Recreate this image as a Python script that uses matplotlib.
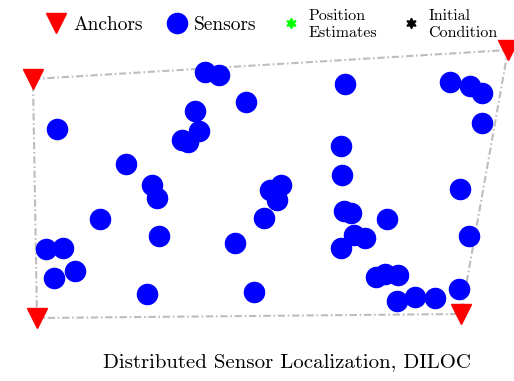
import matplotlib.pyplot as plt
from matplotlib.lines import Line2D

plt.rcParams['font.family'] = 'cmr10'
plt.rcParams['axes.formatter.use_mathtext'] = True

# anchor positions (corners of the convex hull), order TL, TR, BR, BL
anchor_x = [33, 508, 461, 37]
anchor_y = [79, 50, 314, 318]

# sensor positions
sensor_x = [57, 205, 219, 246, 195, 199, 182, 188, 126, 152, 157, 100, 159,
            46, 63, 75, 54, 147, 235, 254, 264, 270, 281, 277, 345, 341,
            342, 344, 351, 354, 365, 341, 387, 376, 385, 398, 397, 415, 435,
            459, 469, 460, 482, 450, 470, 482]
sensor_y = [129, 72, 75, 102, 111, 131, 140, 142, 164, 185, 198, 219, 236,
            249, 248, 271, 278, 294, 243, 292, 218, 190, 185, 200, 84, 146,
            175, 211, 213, 235, 238, 248, 219, 277, 274, 275, 301, 297, 298,
            289, 236, 189, 123, 82, 86, 93]

labels = ['Anchors', 'Sensors', 'Position\nEstimates', 'Initial\nCondition']
title = 'Distributed Sensor Localization, DILOC'

fig = plt.figure(figsize=(5.14, 3.81), dpi=100)
ax = fig.add_axes([0, 0, 1, 1])
ax.set_xlim(0, 514)
ax.set_ylim(381, 0)
ax.axis('off')

# hull outline
ax.plot(anchor_x + anchor_x[:1], anchor_y + anchor_y[:1], linestyle=(0, (3.5, 1.3, 0.8, 1.3)),
        color='#bdbdbd', lw=1.5, zorder=1)
ax.plot(sensor_x, sensor_y, 'o', color='blue', ms=14.5, mec='blue', zorder=2)
ax.plot(anchor_x, anchor_y, 'v', color='red', ms=15, mec='red', zorder=3)

handles = [
    Line2D([], [], ls='none', marker='v', color='red', ms=15),
    Line2D([], [], ls='none', marker='o', color='blue', ms=14.5),
    Line2D([], [], ls='none', marker=(6, 1, 0), color='#00ff00', ms=7.5),
    Line2D([], [], ls='none', marker=(6, 1, 0), color='black', ms=7.5),
]
leg = fig.legend(handles, labels, loc='center', bbox_to_anchor=(0.529, 0.935),
                 ncol=4, frameon=False, fontsize=14, handlelength=1.0,
                 handletextpad=0.4, columnspacing=1.25, borderpad=0)
for t in leg.get_texts()[2:]:
    t.set_fontsize(11.5)
    t.set_linespacing(1.25)

fig.text(0.559, 0.05, title, ha='center', va='center', fontsize=15)

fig.savefig('out.png', dpi=100)
